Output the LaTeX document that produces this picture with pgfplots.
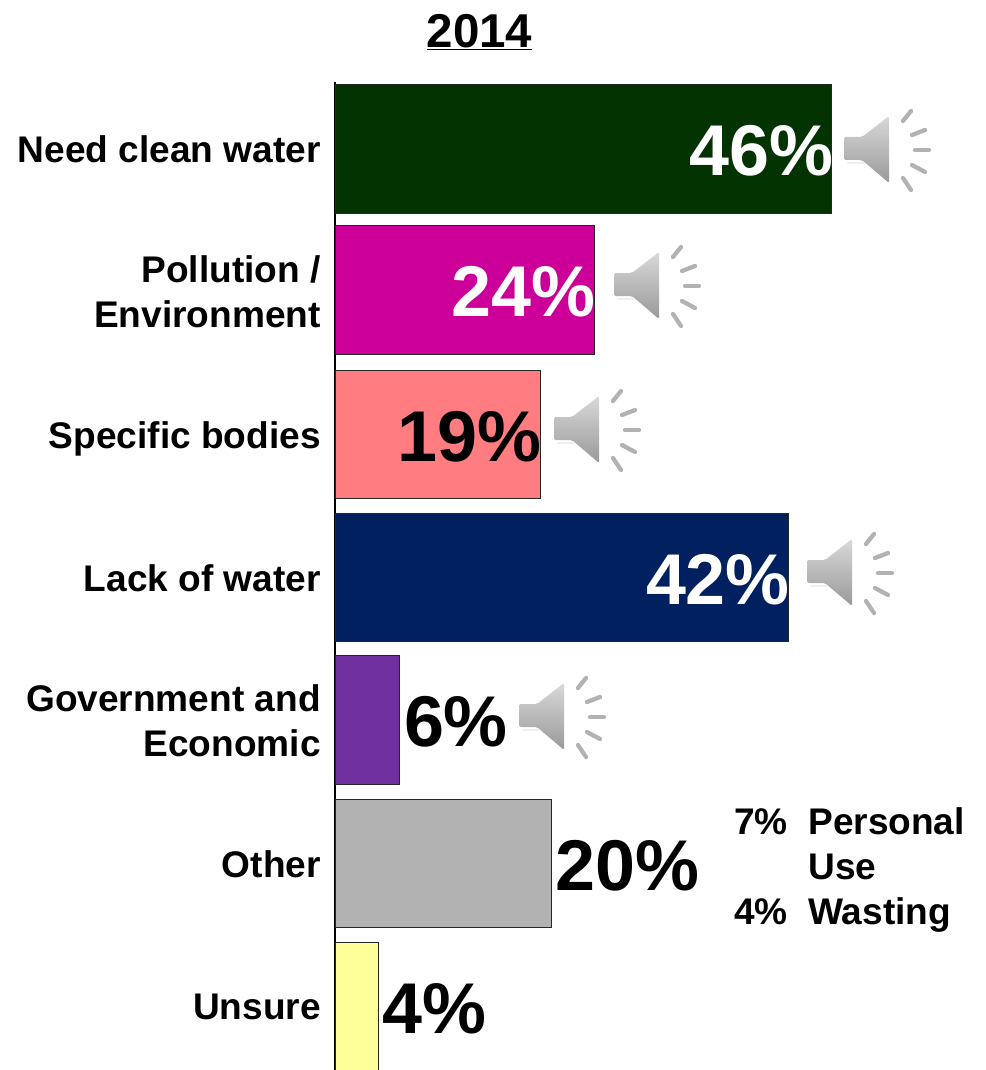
\documentclass[border=0pt]{standalone}
\usepackage{pgfplots}
\usepackage{fontspec}
\setmainfont{Liberation Sans}
\pgfplotsset{compat=1.18}
\definecolor{cGreen}{HTML}{033300}
\definecolor{cMagenta}{HTML}{CC0099}
\definecolor{cSalmon}{HTML}{FF7C80}
\definecolor{cNavy}{HTML}{002060}
\definecolor{cPurple}{HTML}{7030A0}
\definecolor{cGray}{HTML}{B2B2B2}
\definecolor{cYellow}{HTML}{FFFF99}
\newcommand{\lblfont}{\fontsize{27.8}{33.75}\selectfont\bfseries}
\newcommand{\valfont}{\fontsize{53.9}{60}\selectfont\bfseries}
% Loudspeaker icon: the origin is the left edge of the body, at mid height
\newcommand{\speaker}[2]{%
  \begin{scope}[shift={(#1,#2)}]
    \fill[white!90!black,opacity=.6] (3,12) rectangle (20,14);
    \shade[top color=black!15,bottom color=black!40,rounded corners=1.5pt]
      (0,-13) -- (18,-13) -- (45,-34) -- (45,33) -- (18,10) -- (0,10) -- cycle;
    \begin{scope}[line width=3.2pt,line cap=round,color=black!30]
      \draw (59,-29) -- (67,-39);
      \draw (68,-15) -- (81,-20);
      \draw (71,0) -- (85,0);
      \draw (68,15) -- (81,22);
      \draw (59,28) -- (67,40);
    \end{scope}
  \end{scope}}
\begin{document}
\begin{tikzpicture}[x=0.75pt,y=-0.75pt]
  \path[use as bounding box] (0,0) rectangle (985,1070);
  \begin{axis}[
    at={(251.25pt,-802.5pt)}, anchor=south west,
    scale only axis, width=486pt, height=741pt,
    xmin=0, xmax=60, ymin=-0.469, ymax=6.45, y dir=reverse,
    axis y line=left, axis x line=none,
    axis line style={black,line width=1.5pt,-},
    y axis line style={-},
    xbar, bar shift=0pt, bar width=96.4pt,
    ytick={0,...,6}, major tick length=0pt,
    yticklabels={\raisebox{0.5pt}{Need clean water},{\raisebox{1.2pt}{Pollution /}\\\raisebox{1.2pt}{Environment}},\raisebox{0pt}[\height][0pt]{Specific bodies},Lack of water,{Government and\\Economic},Other,Unsure},
    yticklabel style={font=\lblfont,align=right,inner sep=0pt,xshift=-10.5pt,yshift=-0.6pt},
    point meta=x,
    /pgf/number format/assume math mode=true,
    every axis plot/.append style={draw=black!85,line width=0.75pt},
    nodes near coords={\pgfmathprintnumber{\pgfplotspointmeta}\%},
    nodes near coords style={font=\valfont,inner sep=0pt,anchor=west,xshift=2.8pt,yshift=-1.5pt},
    clip=true,
  ]
    \addplot[fill=cGreen,nodes near coords style={anchor=east,text=white,xshift=-1.5pt}] coordinates {(46,0)};
    \addplot[fill=cMagenta,nodes near coords style={anchor=east,text=white,xshift=-1.5pt}] coordinates {(24,0.988)};
    \addplot[fill=cSalmon,nodes near coords style={anchor=east,text=black,xshift=-1.5pt}] coordinates {(19,2)};
    \addplot[fill=cNavy,nodes near coords style={anchor=east,text=white,xshift=-1.5pt}] coordinates {(42,3)};
    \addplot[fill=cPurple] coordinates {(6,4)};
    \addplot[fill=cGray] coordinates {(20,5.005)};
    \addplot[fill=cYellow] coordinates {(4,6.005)};
  \end{axis}
  \node[font=\fontsize{35.6}{40}\selectfont\bfseries,inner sep=0pt] at (479.5,32) {\underline{2014}};
  \speaker{844}{150}
  \speaker{614}{286}
  \speaker{554}{430}
  \speaker{807}{573}
  \speaker{519}{717}
  % Breakdown of the "Other" answers
  \node[font=\lblfont,anchor=base west,inner sep=0pt] at (734,834) {7\%};
  \node[font=\lblfont,anchor=base west,inner sep=0pt] at (808,834) {Personal};
  \node[font=\lblfont,anchor=base west,inner sep=0pt] at (808,879) {Use};
  \node[font=\lblfont,anchor=base west,inner sep=0pt] at (734,924) {4\%};
  \node[font=\lblfont,anchor=base west,inner sep=0pt] at (808,924) {Wasting};
\end{tikzpicture}
\end{document}
